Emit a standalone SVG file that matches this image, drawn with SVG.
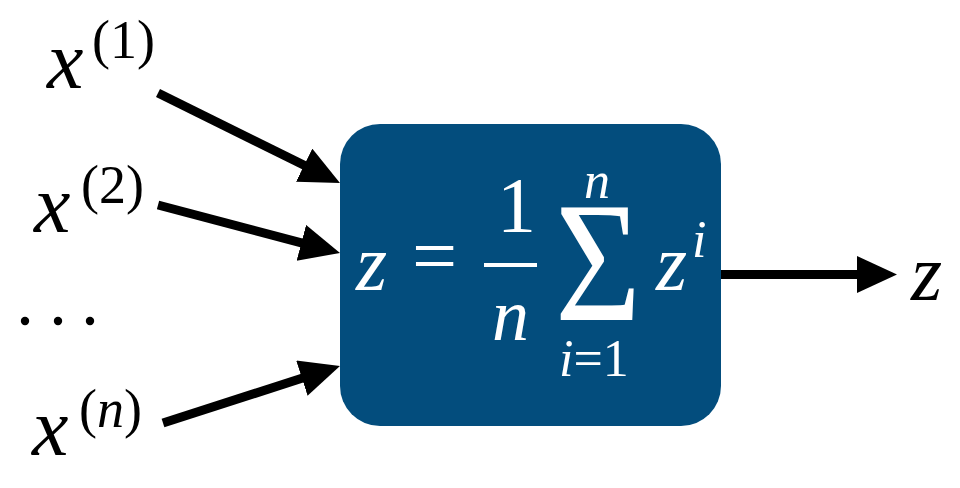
<svg xmlns="http://www.w3.org/2000/svg" width="960" height="488" viewBox="0 0 960 488">
<style>
text{font-family:"Liberation Serif","Times New Roman",Times,"Noto Serif","DejaVu Serif",serif;}
.i{font-style:italic;}
.w{fill:#ffffff;}
.k{fill:#000000;}
.c{stroke:#000;stroke-width:9;fill:none;marker-end:url(#ah);}
</style>
<defs>
<marker id="ah" markerUnits="userSpaceOnUse" markerWidth="42" markerHeight="38" viewBox="0 0 42 38" refX="4" refY="18.5" orient="auto">
<path d="M0,0 L40,18.5 L0,37 z" fill="#000"/>
</marker>
</defs>
<rect width="960" height="488" fill="#fff"/>
<g id="connectors">
<line class="c" x1="158" y1="93" x2="307.7" y2="167"/>
<line class="c" x1="158" y1="205" x2="305.2" y2="243.8"/>
<line class="c" x1="163" y1="423" x2="305.7" y2="377"/>
<line class="c" x1="716" y1="274.5" x2="861" y2="274.5"/>
</g>
<g id="node-sum">
<rect x="340" y="124" width="381" height="302" rx="40" ry="40" fill="#034d7d"/>
<text class="i w" x="356" y="290" font-size="80">z</text>
<text class="w" x="412" y="283" font-size="80">=</text>
<text class="w" x="497" y="231" font-size="78">1</text>
<rect x="484" y="263" width="53" height="4" fill="#fff"/>
<text class="i w" x="492" y="340" font-size="74">n</text>
<text class="w" x="555" y="320" font-size="172" textLength="86" lengthAdjust="spacingAndGlyphs">Σ</text>
<text class="i w" x="584" y="198" font-size="52">n</text>
<text class="w" x="559" y="376" font-size="52"><tspan class="i">i</tspan>=1</text>
<text class="i w" x="656" y="290" font-size="80">z</text>
<text class="i w" x="692" y="257" font-size="52">i</text>
</g>
<g id="node-x1">
<text class="k i" x="47" y="88" font-size="82">x</text>
<text class="k" x="92" y="58" font-size="54">(1)</text>
</g>
<g id="node-x2">
<text class="k i" x="34" y="232" font-size="82">x</text>
<text class="k" x="81" y="203" font-size="54">(2)</text>
</g>
<g id="node-dots">
<circle cx="25" cy="321" r="4.2" fill="#000"/>
<circle cx="58" cy="321" r="4.2" fill="#000"/>
<circle cx="90" cy="321" r="4.2" fill="#000"/>
</g>
<g id="node-xn">
<text class="k i" x="32" y="455" font-size="82">x</text>
<text class="k" x="79" y="427" font-size="54">(<tspan class="i">n</tspan>)</text>
</g>
<g id="node-z">
<text class="k i" x="911" y="300" font-size="80">z</text>
</g>
</svg>
